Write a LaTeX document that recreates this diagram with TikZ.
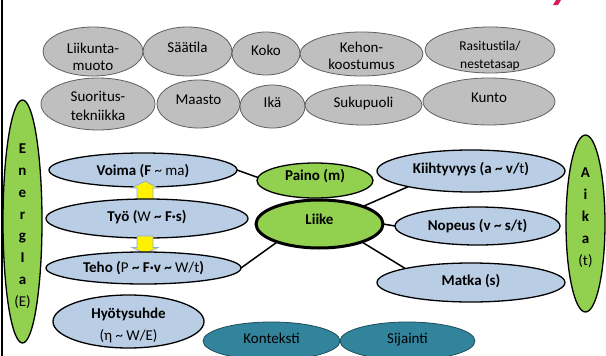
\documentclass[tikz,border=0pt]{standalone}
\usepackage{fontspec}
\setmainfont{Carlito}
\usetikzlibrary{shapes.geometric}
\definecolor{grayfill}{HTML}{BFBFBF}
\definecolor{grayline}{HTML}{5F5F5F}
\definecolor{bluefill}{HTML}{B9CDE5}
\definecolor{greenfill}{HTML}{92D050}
\definecolor{tealfill}{HTML}{31849B}
\definecolor{tealline}{HTML}{1F4E5A}
\definecolor{arrowline}{HTML}{8FAADC}
\definecolor{slidered}{HTML}{D81B5A}
\newcommand\tx[2]{\raisebox{#1pt}[0pt][0pt]{\begin{tabular}{@{}c@{}}#2\end{tabular}}}
\tikzset{
  oval/.style={ellipse, inner sep=0pt, outer sep=0pt, font=\fontsize{15}{17}\selectfont},
  sz/.style 2 args={minimum width=#1pt, minimum height=#2pt},
  grayoval/.style={oval, draw=grayline, fill=grayfill, line width=0.8pt},
  blueoval/.style={oval, draw=black, fill=bluefill, line width=1.3pt, font=\fontsize{15}{17}\selectfont\bfseries},
  greenoval/.style={oval, draw=black, fill=greenfill, line width=1.3pt, font=\fontsize{15}{17}\selectfont\bfseries},
  tealoval/.style={oval, draw=tealline, fill=tealfill, line width=0.8pt},
  link/.style={draw=black, line width=1.5pt},
  yarrow/.style={fill=yellow, draw=arrowline, line width=0.8pt},
}
\begin{document}
\begin{tikzpicture}[x=1pt,y=-1pt]
\fill[white] (0,0) rectangle (606,356);
\useasboundingbox (0,0) rectangle (606,356);
% slide remnants
\draw[line width=2pt] (2,0) -- (2,356);
\fill[slidered] (553,5) -- (556,0) -- (561,0) -- (558,5) -- cycle;

% gray context factors
\node[grayoval, sz={100}{49}] (liik) at (93,51.5) {\tx{-10.25}{Liikunta-\\muoto}};
\node[grayoval, sz={89}{49}] (saat) at (187.5,51.5) {\tx{-1.25}{Säätila}};
\node[grayoval, sz={68}{43}] (koko) at (266,53.5) {\tx{-1.75}{Koko}};
\node[grayoval, sz={123}{44}] (kehon) at (361.5,54) {\tx{-7.25}{Kehon-\\koostumus}};
\node[grayoval, sz={130}{46}, font=\fontsize{13.5}{18}\selectfont] (rasit) at (490,50) {\tx{-9.15}{Rasitustila/\\nestetasap}};
\node[grayoval, sz={114}{52}, font=\fontsize{15}{19}\selectfont] (suor) at (98,104) {\tx{-6.3}{Suoritus-\\tekniikka}};
\node[grayoval, sz={83}{48}] (maasto) at (198.5,104) {\tx{-0.25}{Maasto}};
\node[grayoval, sz={65}{43}] (ika) at (272.5,106.5) {\tx{-0.75}{Ikä}};
\node[grayoval, sz={117}{40}] (suku) at (363.5,105) {\tx{-2.25}{Sukupuoli}};
\node[grayoval, sz={132}{47}] (kunto) at (489,101.5) {\tx{-0.75}{Kunto}};

% side ellipses
\node[greenoval, sz={39}{243}, font=\fontsize{15}{21.8}\selectfont\bfseries] (energia) at (22.5,221.5)
  {\tx{-7.75}{E\\n\\e\\r\\g\\I\\a\\{\mdseries (E)}}};
\node[greenoval, sz={39}{177}, font=\fontsize{15}{21.8}\selectfont\bfseries] (aika) at (585.5,223.5)
  {\tx{2.75}{A\\i\\k\\a\\{\mdseries (t)}}};

% blue quantities with the yellow arrows between them
\node[blueoval, sz={188}{34}] (voima) at (143,170) {\tx{-5.75}{Voima (F {\mdseries\textasciitilde{} ma})}};
\draw[yarrow] (137,201) -- (137,188) -- (132,188) -- (145,181) -- (158,188) -- (153,188) -- (153,201) -- cycle;
\node[blueoval, sz={202}{39}] (tyo) at (147,218.5) {\tx{-3.25}{Työ ({\mdseries W} \textasciitilde{} F·s)}};
\draw[yarrow] (137,236) -- (137,247.5) -- (132,247.5) -- (145,253.5) -- (158,247.5) -- (153,247.5) -- (153,236) -- cycle;
\node[blueoval, sz={195}{32}] (teho) at (143.5,268) {\tx{-4.75}{Teho ({\mdseries P} \textasciitilde{} F·v \textasciitilde{} {\mdseries W/t})}};
\node[blueoval, sz={151}{53}, font=\fontsize{15}{22}\selectfont\bfseries] (hyot) at (128.5,321.5) {\tx{-6.7}{Hyötysuhde\\{\mdseries (η \textasciitilde{} W/E)}}};
\node[blueoval, sz={188}{42}] (kiiht) at (471,171) {\tx{-2.75}{Kiihtyvyys (a \textasciitilde{} v/{\mdseries t})}};
\node[blueoval, sz={165}{38}] (nopeus) at (477.5,226) {\tx{-4.25}{Nopeus (v \textasciitilde{} s/t)}};
\node[blueoval, sz={188}{39}] (matka) at (471,282.5) {\tx{-3.25}{Matka (s)}};

% green centre
\node[greenoval, sz={116}{35}] (paino) at (315,180.5) {\tx{-0.5}{Paino (m)}};
\node[greenoval, sz={127}{48}, line width=3pt] (liike) at (319.5,224) {\tx{-0.25}{Liike}};

% teal
\node[tealoval, sz={137}{38}] (kont) at (271.5,341) {\tx{-2.25}{Konteksti}};
\node[tealoval, sz={135}{38}] (sij) at (407.5,341) {\tx{-2.25}{Sijainti}};

% connectors
\draw[link] (voima.east) -- (paino.177);
\draw[link] (teho.east) -- (liike.203);
\draw[link] (liike.22) -- (kiiht.194);
\draw[link] (liike.east) -- (nopeus.west);
\draw[link] (liike.-23) -- (matka.168);
\end{tikzpicture}
\end{document}
